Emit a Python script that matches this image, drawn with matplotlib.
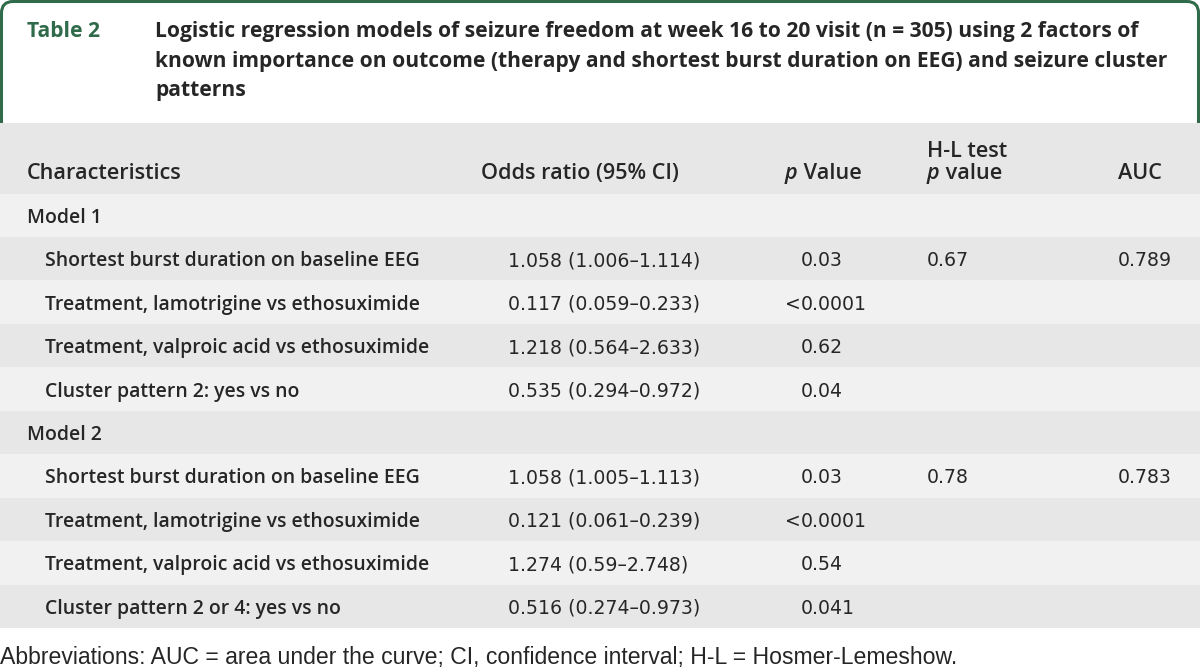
import matplotlib.pyplot as plt
from matplotlib.path import Path
from matplotlib.patches import PathPatch, Rectangle

plt.rcParams['font.family'] = ['Open Sans', 'DejaVu Sans']

GREEN = '#2f6b4a'
INK = '#262626'
DARK = '#e6e7e6'
LIGHT = '#f1f1f1'

table_label = 'Table 2'
title_lines = [
    'Logistic regression models of seizure freedom at week 16 to 20 visit (n = 305) using 2 factors of',
    'known importance on outcome (therapy and shortest burst duration on EEG) and seizure cluster',
    'patterns',
]

models = ['Model 1', 'Model 2']
characteristics = [
    ['Shortest burst duration on baseline EEG',
     'Treatment, lamotrigine vs ethosuximide',
     'Treatment, valproic acid vs ethosuximide',
     'Cluster pattern 2: yes vs no'],
    ['Shortest burst duration on baseline EEG',
     'Treatment, lamotrigine vs ethosuximide',
     'Treatment, valproic acid vs ethosuximide',
     'Cluster pattern 2 or 4: yes vs no'],
]
odds_ratios = [
    ['1.058 (1.006\u20131.114)', '0.117 (0.059\u20130.233)', '1.218 (0.564\u20132.633)', '0.535 (0.294\u20130.972)'],
    ['1.058 (1.005\u20131.113)', '0.121 (0.061\u20130.239)', '1.274 (0.59\u20132.748)', '0.516 (0.274\u20130.973)'],
]
p_values = [
    ['0.03', '<0.0001', '0.62', '0.04'],
    ['0.03', '<0.0001', '0.54', '0.041'],
]
hl_values = [['0.67', '', '', ''], ['0.78', '', '', '']]
auc_values = [['0.789', '', '', ''], ['0.783', '', '', '']]

footnote = ('Abbreviations: AUC = area under the curve; CI, confidence interval; '
            'H-L = Hosmer-Lemeshow.')

fig = plt.figure(figsize=(12, 6.71), dpi=100)
ax = fig.add_axes([0, 0, 1, 1])
ax.set_xlim(0, 1200)
ax.set_ylim(671, 0)
ax.axis('off')
renderer = fig.canvas.get_renderer()


def text_width(s, **kw):
    t = ax.text(0, 0, s, fontsize=10, **kw)
    w = t.get_window_extent(renderer).width
    t.remove()
    return w


def fit_size(strings, widths, **kw):
    # font size that gives the strings about the wanted total width in pixels
    return 10 * sum(widths) / sum(text_width(s, **kw) for s in strings)


title_kw = dict(family=['Open Sans', 'DejaVu Sans'], fontweight='bold')
title_fs = fit_size(title_lines[:2], [1000, 987], **title_kw)
label_kw = dict(family=['Open Sans', 'DejaVu Sans'], fontweight='semibold')
label_fs = fit_size([characteristics[0][0]], [373], **label_kw)
head_fs = fit_size(['Characteristics', 'Odds ratio (95% CI)'], [141, 213], **label_kw)
data_kw = dict(family=['DejaVu Sans'])
data_fs = fit_size([odds_ratios[0][0]], [192], **data_kw)
foot_kw = dict(family=['Liberation Sans', 'DejaVu Sans'])
foot_fs = fit_size([footnote], [963], **foot_kw)

# title box, open at the bottom, rounded top corners
r = 13
verts = [(1.5, 123), (1.5, r), (1.5, 1.5), (r, 1.5), (1200 - r, 1.5),
         (1198.5, 1.5), (1198.5, r), (1198.5, 123)]
codes = [Path.MOVETO, Path.LINETO, Path.CURVE3, Path.CURVE3, Path.LINETO,
         Path.CURVE3, Path.CURVE3, Path.LINETO]
ax.add_patch(PathPatch(Path(verts, codes), fill=False, ec=GREEN, lw=2.2))

ax.text(27, 37, table_label, color=GREEN, fontsize=title_fs, va='baseline', **title_kw)
for i, line in enumerate(title_lines):
    ax.text(155, 37 + 29.5 * i, line, color=INK, fontsize=title_fs, va='baseline', **title_kw)

# header band
header_top, header_bot = 123, 193.5
ax.add_patch(Rectangle((0, header_top), 1200, header_bot - header_top, color=DARK, lw=0))

col_char, col_sub, col_or, col_val, col_p, col_hl, col_auc = 27, 45, 481, 508, 801, 927, 1118
hb = 179
hkw = dict(color=INK, fontsize=head_fs, **label_kw)
ax.text(col_char, hb, 'Characteristics', va='baseline', **hkw)
ax.text(col_or, hb, 'Odds ratio (95% CI)', va='baseline', **hkw)
tp = ax.text(785, hb, 'p', style='italic', va='baseline', **hkw)
ax.annotate(' Value', xy=(1, 0), xycoords=tp, va='bottom', **hkw)
ax.text(col_hl, hb - 22, 'H-L test', va='baseline', **hkw)
tp2 = ax.text(col_hl, hb, 'p', style='italic', va='baseline', **hkw)
ax.annotate(' value', xy=(1, 0), xycoords=tp2, va='bottom', **hkw)
ax.text(col_auc, hb, 'AUC', va='baseline', **hkw)

row_h = 43.45
base_off = 7.5
y = header_bot
shade = 1
dkw = dict(color=INK, fontsize=data_fs, va='baseline', **data_kw)
lkw = dict(color=INK, fontsize=label_fs, va='baseline', **label_kw)
for m, model in enumerate(models):
    ax.add_patch(Rectangle((0, y), 1200, row_h, color=LIGHT if shade else DARK, lw=0))
    ax.text(col_char, y + row_h / 2 + base_off, model, **lkw)
    y += row_h
    shade = 1 - shade
    for k in range(len(characteristics[m])):
        ax.add_patch(Rectangle((0, y), 1200, row_h, color=LIGHT if shade else DARK, lw=0))
        by = y + row_h / 2 + base_off
        ax.text(col_sub, by, characteristics[m][k], **lkw)
        ax.text(col_val, by, odds_ratios[m][k], **dkw)
        p = p_values[m][k]
        if p.startswith('<'):
            ax.text(col_p, by, '<', ha='right', **dkw)
            p = p[1:]
        ax.text(col_p, by, p, **dkw)
        ax.text(col_hl, by, hl_values[m][k], **dkw)
        ax.text(col_auc, by, auc_values[m][k], **dkw)
        y += row_h
        shade = 1 - shade

ax.text(0, 664, footnote, color=INK, fontsize=foot_fs, va='baseline', **foot_kw)

fig.savefig('out.png', dpi=100)
